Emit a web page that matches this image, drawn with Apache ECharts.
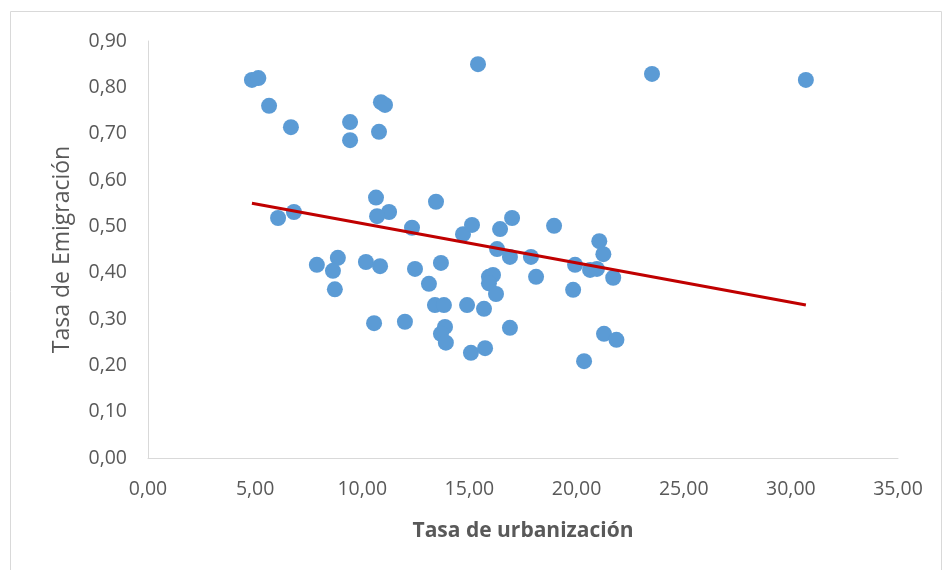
<!DOCTYPE html>
<html>
<head>
<meta charset="utf-8">
<script src="https://cdn.jsdelivr.net/npm/echarts@6/dist/echarts.min.js"></script>
<style>
  html, body { margin: 0; padding: 0; background: #fff; }
  #chart { width: 943px; height: 570px; }
</style>
</head>
<body>
<div id="chart"></div>
<script>
// Tasa de urbanización (x) vs Tasa de Emigración (y)
const urbanizacion = [
  4.85, 5.15, 5.65, 6.67, 9.43, 9.43, 10.78, 10.87, 11.06, 15.40, 23.52, 30.70,
  6.07, 6.81, 10.64, 11.25, 10.69, 12.32, 13.44, 14.70, 15.12, 16.43, 16.99, 18.95,
  16.29, 16.89, 17.87, 19.93, 20.63, 20.95, 21.06, 21.25, 21.71,
  7.88, 8.86, 8.63, 8.72, 10.17, 10.83, 12.46, 13.11, 13.67,
  18.11, 19.84, 15.91, 16.10, 15.91, 16.24,
  13.39, 13.81, 14.89, 15.68,
  10.55, 11.99, 13.86, 13.67, 13.90, 16.89, 15.07, 15.73, 20.35, 21.28, 21.86
]
const emigracion = [
  0.816, 0.820, 0.760, 0.714, 0.725, 0.686, 0.704, 0.768, 0.762, 0.850, 0.829, 0.816,
  0.518, 0.531, 0.562, 0.531, 0.522, 0.497, 0.553, 0.483, 0.503, 0.494, 0.518, 0.501,
  0.451, 0.434, 0.434, 0.417, 0.406, 0.408, 0.468, 0.440, 0.389,
  0.417, 0.432, 0.404, 0.364, 0.423, 0.414, 0.408, 0.376, 0.421,
  0.391, 0.363, 0.391, 0.395, 0.377, 0.354,
  0.330, 0.330, 0.330, 0.322,
  0.291, 0.294, 0.283, 0.268, 0.249, 0.281, 0.227, 0.237, 0.209, 0.268, 0.255
]
// línea de tendencia (extremos)
const trendX = [4.85, 30.70]
const trendY = [0.550, 0.330]

const fmt = v => v.toFixed(2).replace('.', ',')
const font = 'Open Sans, sans-serif'

const chart = echarts.init(document.getElementById('chart'))
chart.setOption({
  animation: false,
  graphic: [{
    type: 'rect',
    shape: { x: 10.5, y: 11.5, width: 931, height: 570 },
    style: { fill: 'none', stroke: '#d9d9d9', lineWidth: 1 }
  }],
  grid: { left: 148, top: 41, right: 45, bottom: 112 },
  xAxis: {
    type: 'value',
    min: 0,
    max: 35,
    interval: 5,
    name: 'Tasa de urbanización',
    nameLocation: 'middle',
    nameGap: 63,
    nameTextStyle: { color: '#595959', fontSize: 21, fontWeight: 'bold', fontFamily: font },
    axisLine: { show: true, lineStyle: { color: '#d9d9d9', width: 1 } },
    axisTick: { show: false },
    splitLine: { show: false },
    axisLabel: { color: '#595959', fontSize: 19.5, fontFamily: font, margin: 21, formatter: fmt }
  },
  yAxis: {
    type: 'value',
    min: 0,
    max: 0.9,
    interval: 0.1,
    name: 'Tasa de Emigración',
    nameLocation: 'middle',
    nameGap: 74,
    nameTextStyle: { color: '#595959', fontSize: 23, fontFamily: font },
    axisLine: { show: true, lineStyle: { color: '#d9d9d9', width: 1 } },
    axisTick: { show: false },
    splitLine: { show: false },
    axisLabel: { color: '#595959', fontSize: 19.5, fontFamily: font, margin: 21, formatter: fmt }
  },
  series: [{
    type: 'scatter',
    symbolSize: 16,
    itemStyle: { color: '#5b9bd5', opacity: 1 },
    data: urbanizacion.map((x, i) => [x, emigracion[i]])
  }, {
    type: 'line',
    symbol: 'none',
    lineStyle: { color: '#c00000', width: 3 },
    data: trendX.map((x, i) => [x, trendY[i]]),
    z: 3
  }]
})
</script>
</body>
</html>
